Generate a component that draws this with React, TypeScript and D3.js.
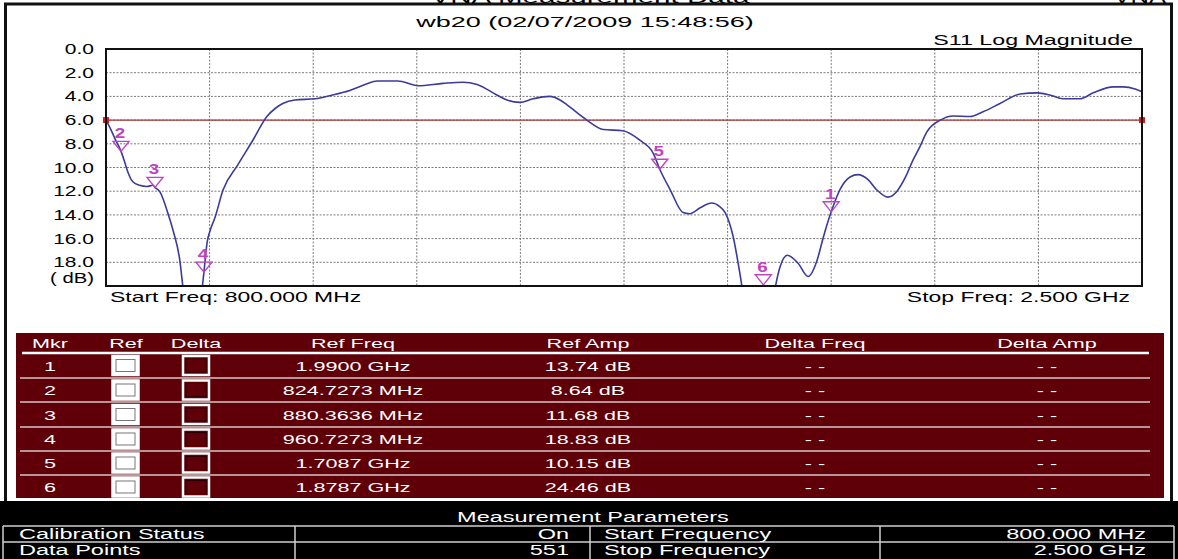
import React from "react";
import * as d3 from "d3";

// S11 trace (MHz, dB down)
const FREQ_MHZ = [
  800, 808, 815, 824.7, 831, 836, 844, 855, 867, 877, 880.4, 889, 900, 910, 921, 926, 935, 945, 952, 957,
  960.7, 966, 971, 979, 992, 1016, 1041, 1064, 1078, 1090, 1110, 1143, 1170, 1200, 1225, 1245, 1279, 1312,
  1353, 1386, 1409, 1442, 1458, 1479, 1501, 1528, 1545, 1556, 1589, 1616, 1648, 1676, 1698, 1708.7, 1726,
  1747, 1758, 1775, 1794, 1807, 1816, 1829, 1840, 1845, 1860, 1878.7, 1890, 1897, 1906, 1918, 1936, 1952,
  1967, 1977, 1990, 2005, 2021, 2034, 2050, 2065, 2083, 2098, 2112, 2124, 2136, 2147, 2169, 2190, 2218,
  2239, 2267, 2300, 2328, 2350, 2370, 2398, 2420, 2453, 2469, 2490, 2500,
];
const S11_DB = [
  6.0, 6.8, 7.6, 8.64, 9.6, 10.4, 11.2, 11.5, 11.6, 11.5, 11.68, 12.1, 13.6, 15.3, 17.8, 20.0, 24.0, 25.0, 23.0, 20.6,
  18.83, 16.3, 15.3, 14.2, 11.9, 9.8, 7.7, 5.7, 5.0, 4.6, 4.3, 4.2, 3.9, 3.5, 3.0, 2.7, 2.7, 3.1,
  2.9, 2.8, 3.0, 3.9, 4.3, 4.5, 4.2, 4.0, 4.3, 4.7, 6.0, 6.8, 6.9, 7.7, 8.8, 10.15, 11.9,
  13.8, 13.9, 13.4, 13.0, 13.3, 13.8, 15.8, 18.9, 20.5, 23.5, 24.46, 23.0, 20.5, 18.4, 17.4, 18.1, 19.2,
  17.8, 15.9, 13.74, 11.8, 10.8, 10.6, 11.0, 11.9, 12.5, 12.0, 10.8, 9.4, 8.2, 7.0, 6.0, 5.65, 5.7,
  5.3, 4.6, 3.8, 3.7, 3.9, 4.2, 4.2, 3.7, 3.2, 3.2, 3.4, 3.6,
];

const REF_LEVEL_DB = 6.0;
const Y_TICKS = [0, 2, 4, 6, 8, 10, 12, 14, 16, 18];
const X_GRID_MHZ = [800, 970, 1140, 1310, 1480, 1650, 1820, 1990, 2160, 2330, 2500];

const MARKER_IDS = [1, 2, 3, 4, 5, 6];
const MARKER_FREQ_MHZ = [1990, 824.7273, 880.3636, 960.7273, 1708.7, 1878.7];
const MARKER_AMP_DB = [13.74, 8.64, 11.68, 18.83, 10.15, 24.46];
const MARKER_FREQ_LABELS = ["1.9900 GHz", "824.7273 MHz", "880.3636 MHz", "960.7273 MHz", "1.7087 GHz", "1.8787 GHz"];

const TABLE_HEADERS = ["Mkr", "Ref", "Delta", "Ref Freq", "Ref Amp", "Delta Freq", "Delta Amp"];
const TABLE_COL_X = [50, 126, 196, 353, 588, 815, 1047];

const PARAM_LEFT = ["Calibration Status", "Data Points"];
const PARAM_LEFT_VAL = ["On", "551"];
const PARAM_RIGHT = ["Start Frequency", "Stop Frequency"];
const PARAM_RIGHT_VAL = ["800.000 MHz", "2.500 GHz"];

const FONT = "'Liberation Sans', Arial, sans-serif";
const MAROON = "#5f0008";
const MARKER_COLOR = "#c043c0";

function T({ x, y, anchor = "start", size = 14, sx = 1.62, fill = "#000", weight = "normal", children }: any) {
  return (
    <g transform={`translate(${x},${y}) scale(${sx},1)`}>
      <text textAnchor={anchor} fontSize={size} fill={fill} fontWeight={weight} fontFamily={FONT}>
        {children}
      </text>
    </g>
  );
}

export default function App() {
  const W = 1178;
  const H = 559;
  const x = d3.scaleLinear().domain([800, 2500]).range([106, 1142]);
  const y = d3.scaleLinear().domain([0, 20]).range([49, 286]);
  const [x0, x1] = x.range();
  const [y0, y1] = y.range();

  const line = d3
    .line<number>()
    .x((d, i) => x(FREQ_MHZ[i]))
    .y(d => y(d))
    .curve(d3.curveMonotoneX);

  const rowLines = [378, 402, 427, 451, 475];
  const rowCenters = [365.5, 390, 414.5, 439, 463, 487];
  const pTop = 526;
  const pRow = 16;

  return (
    <svg width={W} height={H} style={{ position: "fixed", left: 0, top: 0, background: "#fff" }}>
      <defs>
        <clipPath id="plotClip">
          <rect x={x0} y={y0} width={x1 - x0} height={y1 - y0} />
        </clipPath>
      </defs>

      {/* outer frame */}
      <rect x={5.5} y={4} width={1166} height={500} fill="#fff" stroke="#111" strokeWidth={3} />
      <T x={590} y={3} anchor="middle" size={16} sx={1.85}>VNA Measurement Data</T>
      <T x={1166} y={3} anchor="end" size={16} sx={1.6}>VNA</T>
      <T x={585} y={27} anchor="middle" size={15} sx={1.8}>wb20 (02/07/2009 15:48:56)</T>
      <T x={1133} y={45} anchor="end" size={14} sx={1.66}>S11 Log Magnitude</T>

      {/* grid */}
      {X_GRID_MHZ.slice(1, -1).map(f => (
        <line key={"vx" + f} x1={x(f)} x2={x(f)} y1={y0} y2={y1} stroke="#7a7a7a" strokeWidth={1} strokeDasharray="2,1.5" />
      ))}
      {Y_TICKS.slice(1).map(t => (
        <line key={"hy" + t} x1={x0} x2={x1} y1={y(t)} y2={y(t)} stroke="#7a7a7a" strokeWidth={1} strokeDasharray="2,1.5" />
      ))}

      {/* y tick labels */}
      {Y_TICKS.map(t => (
        <T key={"yt" + t} x={94} y={y(t) + 5} anchor="end" size={14} sx={1.5}>{t.toFixed(1)}</T>
      ))}
      <T x={94} y={y(20) - 3} anchor="end" size={14} sx={1.45}>( dB)</T>

      {/* reference line */}
      <line x1={x0} x2={x1} y1={y(REF_LEVEL_DB)} y2={y(REF_LEVEL_DB)} stroke="#a83434" strokeWidth={1.3} />
      <rect x={x0 - 3} y={y(REF_LEVEL_DB) - 3} width={6} height={6} fill="#cc1f1f" />
      <rect x={x1 - 3} y={y(REF_LEVEL_DB) - 3} width={6} height={6} fill="#cc1f1f" />

      {/* trace */}
      <path d={line(S11_DB) || ""} fill="none" stroke="#3b3b9b" strokeWidth={1.6} clipPath="url(#plotClip)" />

      {/* markers */}
      {MARKER_IDS.map((id, i) => {
        const mx = x(MARKER_FREQ_MHZ[i]);
        const tip = y(Math.min(MARKER_AMP_DB[i], 19.9));
        return (
          <g key={"m" + id}>
            <path
              d={`M${mx - 8},${tip - 10}L${mx + 8},${tip - 10}L${mx},${tip}Z`}
              fill="none"
              stroke={MARKER_COLOR}
              strokeWidth={1.4}
            />
            <T x={mx - 1} y={tip - 13} anchor="middle" size={15} sx={1.25} weight="bold" fill={MARKER_COLOR}>
              {id}
            </T>
          </g>
        );
      })}

      <rect x={x0} y={y0} width={x1 - x0} height={y1 - y0} fill="none" stroke="#111" strokeWidth={2} />
      <T x={110} y={302} size={14} sx={1.64}>Start Freq: 800.000 MHz</T>
      <T x={1130} y={302} anchor="end" size={14} sx={1.64}>Stop Freq: 2.500 GHz</T>

      {/* marker table */}
      <rect x={16} y={333} width={1148} height={165} fill={MAROON} />
      {TABLE_HEADERS.map((h, i) => (
        <T key={"th" + h} x={TABLE_COL_X[i]} y={348} anchor="middle" size={13.5} sx={1.6} fill="#fff">{h}</T>
      ))}
      <line x1={22} x2={1149} y1={353} y2={353} stroke="#fff" strokeWidth={2.5} />
      {rowLines.map(ly => (
        <line key={"rl" + ly} x1={20} x2={1150} y1={ly} y2={ly} stroke="#d6c8c8" strokeWidth={1.5} />
      ))}
      {MARKER_IDS.map((id, i) => {
        const cy = rowCenters[i];
        return (
          <g key={"row" + id}>
            <T x={TABLE_COL_X[0]} y={cy + 5} anchor="middle" size={13.5} sx={1.6} fill="#fff">{id}</T>
            <rect x={112.5} y={cy - 9.5} width={26} height={19} fill="#fff" stroke="#fff" strokeWidth={2.5} />
            <rect x={116} y={cy - 6} width={19} height={12} fill="#fff" stroke="#777" strokeWidth={1} />
            <rect x={183} y={cy - 9.5} width={26} height={19} fill={MAROON} stroke="#fff" strokeWidth={2.5} />
            <rect x={186} y={cy - 6.5} width={20} height={13} fill={MAROON} stroke="#2a0004" strokeWidth={1} />
            <T x={TABLE_COL_X[3]} y={cy + 5} anchor="middle" size={13.5} sx={1.6} fill="#fff">{MARKER_FREQ_LABELS[i]}</T>
            <T x={TABLE_COL_X[4]} y={cy + 5} anchor="middle" size={13.5} sx={1.6} fill="#fff">
              {MARKER_AMP_DB[i].toFixed(2) + " dB"}
            </T>
            <T x={TABLE_COL_X[5]} y={cy + 5} anchor="middle" size={13.5} sx={1.6} fill="#fff">- -</T>
            <T x={TABLE_COL_X[6]} y={cy + 5} anchor="middle" size={13.5} sx={1.6} fill="#fff">- -</T>
          </g>
        );
      })}

      {/* measurement parameters */}
      <rect x={0} y={501} width={W} height={H - 501} fill="#000" />
      <T x={593} y={pTop - 4} anchor="middle" size={14} sx={1.68} fill="#fff">Measurement Parameters</T>
      {[pTop, pTop + pRow].map(ly => (
        <line key={"pl" + ly} x1={3} x2={1174} y1={ly} y2={ly} stroke="#cfcfcf" strokeWidth={1.5} />
      ))}
      {[3, 295, 590, 880, 1174].map(lx => (
        <line key={"pv" + lx} x1={lx} x2={lx} y1={pTop} y2={H} stroke="#cfcfcf" strokeWidth={1.5} />
      ))}
      {PARAM_LEFT.map((p, i) => (
        <g key={"p" + p}>
          <T x={19} y={pTop + 13 + i * pRow} size={14} sx={1.68} fill="#fff">{p}</T>
          <T x={569} y={pTop + 13 + i * pRow} anchor="end" size={14} sx={1.68} fill="#fff">{PARAM_LEFT_VAL[i]}</T>
          <T x={604} y={pTop + 13 + i * pRow} size={14} sx={1.68} fill="#fff">{PARAM_RIGHT[i]}</T>
          <T x={1146} y={pTop + 13 + i * pRow} anchor="end" size={14} sx={1.68} fill="#fff">{PARAM_RIGHT_VAL[i]}</T>
        </g>
      ))}
    </svg>
  );
}
